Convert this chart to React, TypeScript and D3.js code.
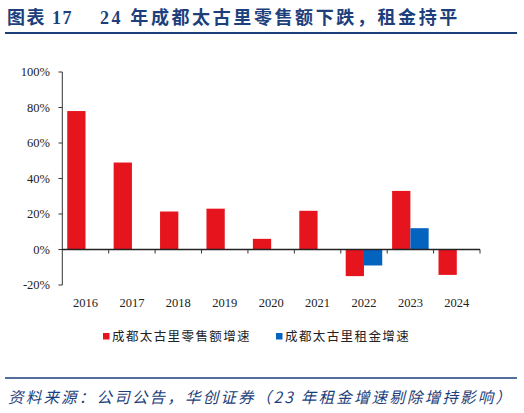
import React, { useEffect, useRef } from 'react';
import * as d3 from 'd3';

// Chart data
const years = ['2016', '2017', '2018', '2019', '2020', '2021', '2022', '2023', '2024'];
const retailGrowth = [78, 49, 21.4, 23, 6, 21.8, -15, 33, -14.3];
const rentGrowth: (number | null)[] = [null, null, null, null, null, null, -9, 12, null];
const seriesNames = ['成都太古里零售额增速', '成都太古里租金增速'];
const yTicks = [-20, 0, 20, 40, 60, 80, 100];

const RED = '#e5141d';
const BLUE = '#0563c0';
const NAVY = '#1d3f7c';

export default function App() {
  const ref = useRef<SVGSVGElement>(null);

  useEffect(() => {
    if (!ref.current) return;
    const svg = d3.select(ref.current);
    svg.selectAll('*').remove();

    const serif = '"Liberation Serif", "Noto Sans CJK SC", serif';
    const cjk = '"Noto Sans CJK SC", sans-serif';

    // Title
    const title = svg.append('text')
      .attr('x', 7).attr('y', 24)
      .style('font-family', serif)
      .style('font-weight', 'bold')
      .style('font-size', '18px')
      .style('fill', NAVY);
    title.append('tspan').style('letter-spacing', '1.5px').text('图表 17');
    title.append('tspan').attr('x', 100).style('letter-spacing', '2.6px')
      .text('24 年成都太古里零售额下跌，租金持平');

    svg.append('line')
      .attr('x1', 5).attr('x2', 517).attr('y1', 33).attr('y2', 33)
      .attr('stroke', NAVY).attr('stroke-width', 2);

    // Scales
    const x = d3.scaleBand().domain(years).range([62.3, 480]).paddingInner(0).paddingOuter(0);
    const y = d3.scaleLinear().domain([-20, 100]).range([285, 72]);
    const inner = d3.scaleBand().domain(['a', 'b']).range([0, x.bandwidth()]).paddingInner(0).paddingOuter(0.27);

    const g = svg.append('g');

    // Y axis
    g.append('line')
      .attr('x1', 62.3).attr('x2', 62.3).attr('y1', y(100)).attr('y2', y(-20))
      .attr('stroke', '#333').attr('stroke-width', 1);
    yTicks.forEach(t => {
      g.append('line')
        .attr('x1', 58.5).attr('x2', 62.3).attr('y1', y(t)).attr('y2', y(t))
        .attr('stroke', '#333');
      g.append('text')
        .attr('x', 50).attr('y', y(t)).attr('dy', '0.35em')
        .attr('text-anchor', 'end')
        .style('font-family', serif).style('font-size', '12.5px').style('fill', '#222')
        .text(`${t}%`);
    });

    // Bars
    years.forEach((yr, i) => {
      const bx = x(yr)!;
      const v = retailGrowth[i];
      g.append('rect')
        .attr('x', bx + inner('a')!).attr('width', inner.bandwidth())
        .attr('y', y(Math.max(0, v))).attr('height', Math.abs(y(v) - y(0)))
        .attr('fill', RED);
      const r = rentGrowth[i];
      if (r != null) {
        g.append('rect')
          .attr('x', bx + inner('b')!).attr('width', inner.bandwidth())
          .attr('y', y(Math.max(0, r))).attr('height', Math.abs(y(r) - y(0)))
          .attr('fill', BLUE);
      }
    });

    // X axis at zero
    g.append('line')
      .attr('x1', 62.3).attr('x2', 480).attr('y1', y(0)).attr('y2', y(0))
      .attr('stroke', '#222').attr('stroke-width', 1.3);
    years.forEach(yr => {
      const tx = x(yr)! + x.bandwidth();
      g.append('line')
        .attr('x1', tx).attr('x2', tx).attr('y1', y(0)).attr('y2', y(0) + 4)
        .attr('stroke', '#333');
      g.append('text')
        .attr('x', x(yr)! + x.bandwidth() / 2).attr('y', 307)
        .attr('text-anchor', 'middle')
        .style('font-family', serif).style('font-size', '12.5px').style('fill', '#222')
        .text(yr);
    });

    // Legend
    const legendX = [103, 276];
    seriesNames.forEach((name, i) => {
      svg.append('rect')
        .attr('x', legendX[i]).attr('y', 333).attr('width', 6.5).attr('height', 6.5)
        .attr('fill', i === 0 ? RED : BLUE);
      svg.append('text')
        .attr('x', legendX[i] + 9).attr('y', 341)
        .style('font-family', cjk).style('font-size', '12.5px')
        .style('letter-spacing', '1.4px').style('fill', '#222')
        .text(name);
    });

    // Source
    svg.append('line')
      .attr('x1', 5).attr('x2', 517).attr('y1', 378).attr('y2', 378)
      .attr('stroke', NAVY).attr('stroke-width', 1.5);
    svg.append('text')
      .attr('x', 8).attr('y', 403)
      .style('font-family', cjk).style('font-style', 'italic')
      .style('font-size', '15.5px').style('letter-spacing', '2.2px').style('fill', NAVY)
      .text('资料来源：公司公告，华创证券（23 年租金增速剔除增持影响）');
  }, []);

  return (
    <svg
      ref={ref}
      width={524}
      height={413}
      style={{ position: 'absolute', left: 0, top: 0, background: '#fff' }}
    />
  );
}
